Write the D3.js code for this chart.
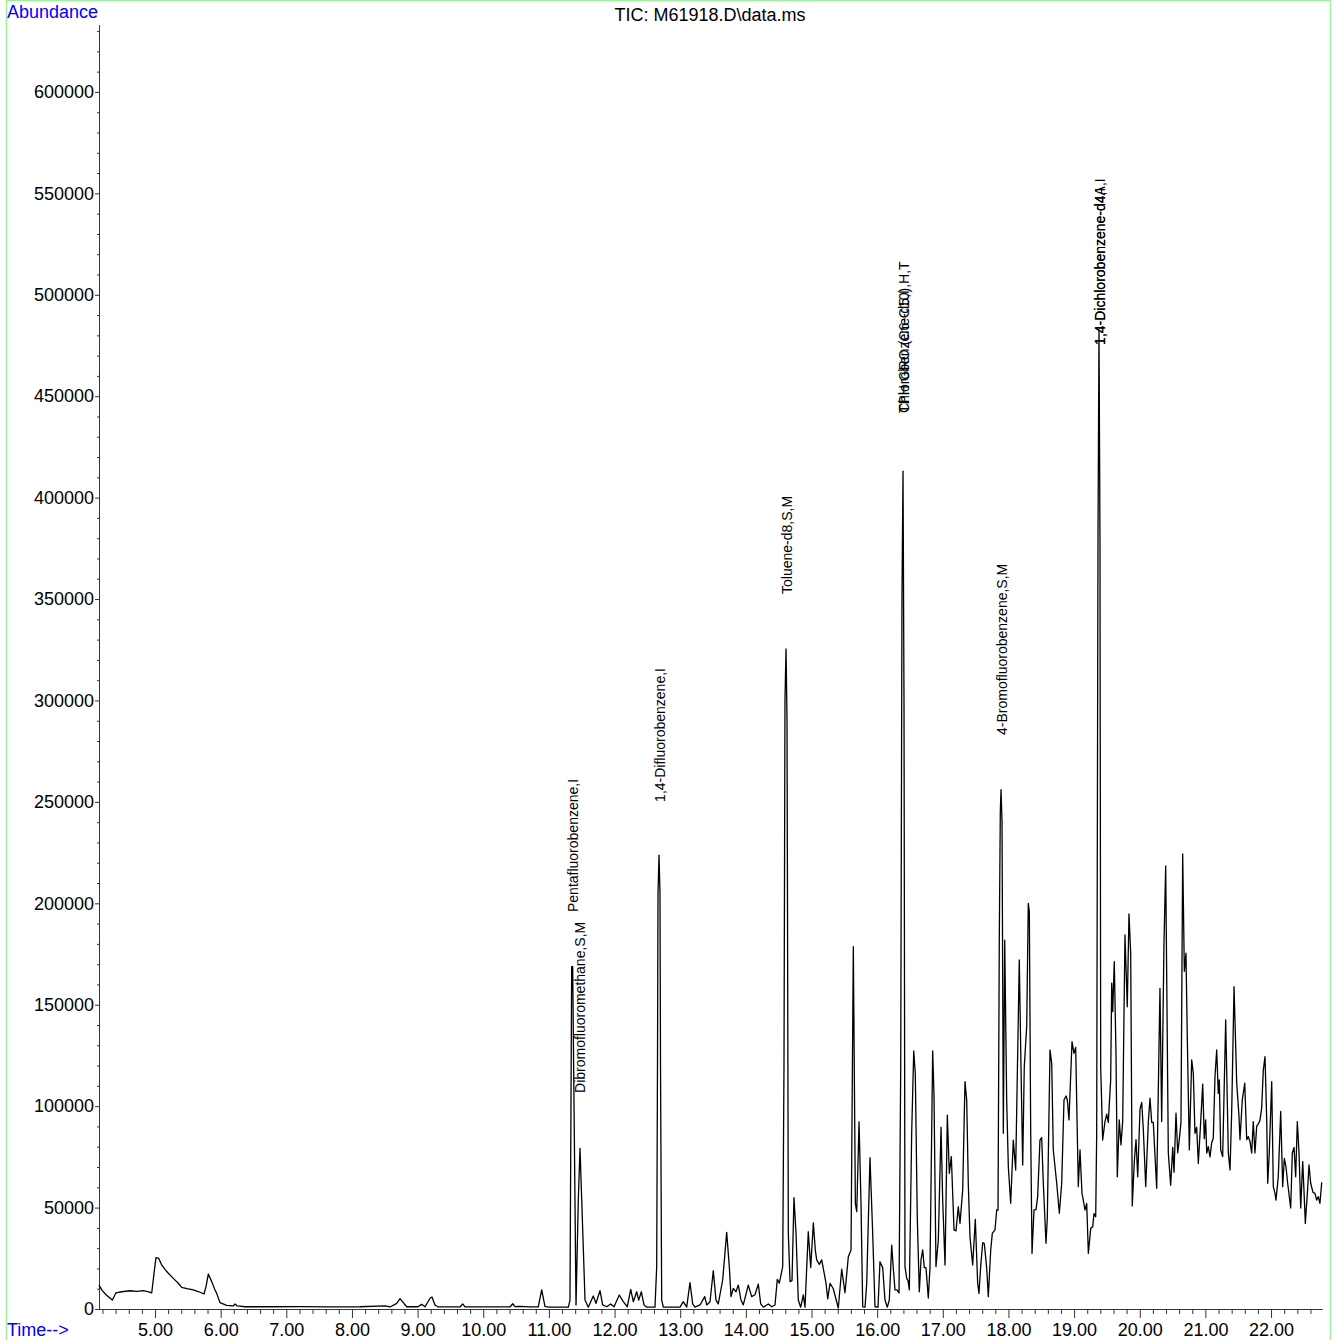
<!DOCTYPE html>
<html>
<head>
<meta charset="utf-8">
<script src="https://cdn.jsdelivr.net/npm/d3@7"></script>
<style>
  html, body { margin: 0; padding: 0; background: #fff; }
  svg { display: block; font-family: "Liberation Sans", Arial, sans-serif; }
</style>
</head>
<body>
<svg id="chart" width="1338" height="1340"></svg>
<script>
// ---- Data (retention time in minutes, abundance) ----
const tic = [
[4.147,11800],[4.188,9400],[4.254,7000],[4.350,4400],[4.406,8000],[4.493,8500],[4.619,9000],[4.726,8700],[4.817,9100],[4.893,8600],[4.950,7900],[4.985,17600],[5.015,25300],[5.056,25000],[5.102,21700],[5.152,19500],[5.203,17600],[5.279,15100],[5.355,12700],[5.407,10700],[5.487,10000],[5.583,9400],[5.670,8500],[5.746,7400],[5.777,11000],[5.812,17250],[5.864,13500],[5.914,9400],[5.940,7700],[5.990,3100],[6.092,1800],[6.193,1500],[6.219,2500],[6.254,1500],[6.371,1100],[6.676,1100],[7.209,1200],[7.666,1000],[8.123,1100],[8.503,1500],[8.580,1000],[8.682,2800],[8.732,5100],[8.782,3100],[8.834,1100],[9.006,1100],[9.062,2300],[9.113,1100],[9.189,5300],[9.219,5900],[9.265,2000],[9.315,1000],[9.646,1000],[9.687,2500],[9.722,1000],[10.407,1000],[10.449,2600],[10.484,1200],[10.560,1300],[10.712,1000],[10.838,1000],[10.890,9400],[10.941,1200],[11.017,900],[11.296,900],[11.321,4400],[11.347,168800],[11.362,168800],[11.387,86700],[11.413,2000],[11.448,53700],[11.474,79200],[11.500,53700],[11.550,4400],[11.600,900],[11.676,6400],[11.717,2800],[11.778,9000],[11.819,2000],[11.880,1100],[11.941,2500],[11.992,1100],[12.072,6900],[12.133,3600],[12.194,1100],[12.246,9700],[12.286,3600],[12.337,8500],[12.368,4400],[12.408,8500],[12.449,2000],[12.490,900],[12.616,900],[12.642,20900],[12.654,120000],[12.662,205000],[12.677,223800],[12.692,205000],[12.700,120000],[12.718,4400],[12.743,900],[12.997,900],[13.047,3600],[13.099,900],[13.149,13000],[13.190,2500],[13.225,900],[13.302,2000],[13.373,6100],[13.404,2000],[13.454,3600],[13.504,18900],[13.545,4400],[13.580,2500],[13.647,14300],[13.708,37800],[13.748,20900],[13.774,6100],[13.809,10200],[13.850,8500],[13.885,11800],[13.926,4400],[13.961,2000],[14.037,11800],[14.089,6100],[14.139,7000],[14.190,12300],[14.226,2500],[14.266,900],[14.342,2500],[14.394,1100],[14.444,2000],[14.479,14600],[14.510,12700],[14.561,20900],[14.581,120000],[14.596,300000],[14.612,325400],[14.627,290000],[14.647,37300],[14.673,13500],[14.703,14000],[14.733,54900],[14.764,37500],[14.799,4400],[14.835,900],[14.875,6900],[14.901,900],[14.951,38100],[14.988,20400],[15.028,42500],[15.058,29000],[15.079,24200],[15.119,22000],[15.155,24200],[15.195,17300],[15.221,12700],[15.247,5000],[15.282,12700],[15.332,10000],[15.408,500],[15.460,19600],[15.510,8000],[15.561,25800],[15.602,29100],[15.637,178600],[15.668,52100],[15.689,48000],[15.724,92300],[15.754,52000],[15.780,1100],[15.815,900],[15.841,12700],[15.891,74600],[15.932,37300],[15.967,1100],[16.013,900],[16.043,23300],[16.084,20400],[16.119,4400],[16.155,900],[16.185,4400],[16.222,31500],[16.246,20000],[16.272,9400],[16.302,9400],[16.333,7900],[16.359,119500],[16.378,350000],[16.394,413100],[16.409,300000],[16.424,20900],[16.450,15100],[16.470,14000],[16.490,9400],[16.526,86600],[16.557,127200],[16.581,116200],[16.611,45500],[16.642,8500],[16.668,24200],[16.694,29100],[16.718,20400],[16.744,20400],[16.779,5400],[16.805,20400],[16.846,127200],[16.866,105000],[16.896,20900],[16.932,34000],[16.973,89600],[16.998,53700],[17.034,21700],[17.069,95600],[17.099,66900],[17.130,75100],[17.171,39000],[17.201,38500],[17.236,50400],[17.262,42200],[17.303,58700],[17.338,112100],[17.364,103000],[17.388,62000],[17.414,35600],[17.455,21700],[17.495,44200],[17.531,12700],[17.551,7700],[17.577,21000],[17.608,32700],[17.632,32300],[17.669,20000],[17.693,6100],[17.730,29100],[17.754,37300],[17.795,39000],[17.821,48800],[17.841,48800],[17.861,185400],[17.876,245000],[17.887,256000],[17.902,240000],[17.922,86600],[17.943,181900],[17.973,103000],[17.998,70200],[18.034,52100],[18.074,83300],[18.110,68500],[18.165,172100],[18.191,119500],[18.217,71000],[18.241,119500],[18.278,139200],[18.302,200000],[18.318,196000],[18.339,86600],[18.359,27400],[18.389,48800],[18.420,49000],[18.445,55400],[18.480,83300],[18.506,84500],[18.531,62000],[18.572,32400],[18.592,45000],[18.633,127700],[18.659,121000],[18.683,78400],[18.735,62000],[18.775,47200],[18.811,62000],[18.846,103000],[18.877,105000],[18.897,103000],[18.922,93200],[18.968,131800],[18.998,126000],[19.024,129000],[19.064,60300],[19.090,78400],[19.120,57000],[19.140,53700],[19.166,48800],[19.192,52000],[19.217,27400],[19.253,39800],[19.283,40500],[19.303,47000],[19.329,45500],[19.344,86600],[19.364,380000],[19.379,482600],[19.394,380000],[19.405,119500],[19.435,83300],[19.470,92300],[19.496,96100],[19.521,92000],[19.557,112900],[19.573,160600],[19.588,146600],[19.612,171300],[19.638,126100],[19.658,65200],[19.688,93200],[19.714,80900],[19.740,92400],[19.775,184400],[19.810,149000],[19.836,194800],[19.862,175100],[19.886,50800],[19.917,72700],[19.943,83500],[19.969,65200],[20.004,98600],[20.030,101900],[20.054,88700],[20.091,60300],[20.131,92400],[20.156,103900],[20.182,92000],[20.206,92000],[20.258,59500],[20.308,158100],[20.334,92400],[20.369,180000],[20.395,218400],[20.435,76900],[20.471,61000],[20.502,79700],[20.522,67400],[20.552,96500],[20.578,77000],[20.602,83500],[20.628,92000],[20.654,224300],[20.679,166500],[20.704,175400],[20.724,134300],[20.755,78400],[20.791,122800],[20.816,116000],[20.841,86600],[20.867,89600],[20.892,71800],[20.928,92000],[20.959,110900],[20.983,84000],[21.004,93200],[21.020,76900],[21.044,80000],[21.070,75000],[21.096,82000],[21.120,84200],[21.146,114600],[21.172,127700],[21.196,106300],[21.212,113000],[21.233,78400],[21.263,75100],[21.309,142500],[21.349,76900],[21.375,68500],[21.401,98000],[21.436,158900],[21.477,111300],[21.512,94800],[21.527,83500],[21.562,103000],[21.599,111300],[21.629,83500],[21.653,85000],[21.679,82600],[21.705,76900],[21.729,92400],[21.755,76900],[21.781,90000],[21.811,91600],[21.831,93000],[21.857,99000],[21.882,117800],[21.908,124400],[21.934,93000],[21.949,62000],[21.973,77000],[22.010,112100],[22.034,60300],[22.060,57000],[22.075,53700],[22.110,65200],[22.147,97400],[22.177,60300],[22.202,74300],[22.228,70000],[22.253,62000],[22.299,49800],[22.324,76900],[22.350,79700],[22.375,65200],[22.400,92400],[22.426,77000],[22.452,49800],[22.482,72700],[22.502,58000],[22.522,42200],[22.553,57000],[22.578,71000],[22.604,62000],[22.639,57500],[22.669,57000],[22.695,53700],[22.720,55400],[22.745,52100],[22.772,62500]
];

// Peak annotations: name, retention time, abundance where the label starts
const peakNames = ["Dibromofluoromethane,S,M", "Pentafluorobenzene,I", "1,4-Difluorobenzene,I",
  "Toluene-d8,S,M", "Chlorobenzene-d5,I", "TPH GRO (C6-C10),H,T", "4-Bromofluorobenzene,S,M",
  "1,4-Dichlorobenzene-d4,I", "1,4-Dichlorobenzene-d4A,I"];
const peakTimes = [11.474, 11.368, 12.692, 14.627, 16.409, 16.409, 17.902, 19.394, 19.394];
const peakLabelBase = [106500, 195700, 250000, 352500, 441700, 441700, 283000, 475300, 475300];

// Axis ticks
const xMajorTicks = [5,6,7,8,9,10,11,12,13,14,15,16,17,18,19,20,21,22];
const yMajorTicks = [0,50000,100000,150000,200000,250000,300000,350000,400000,450000,500000,550000,600000];
const titleText = "TIC: M61918.D\\data.ms";

// ---- Drawing ----
const svg = d3.select("#chart");
const x = d3.scaleLinear().domain([4.147, 22.776]).range([99, 1322]);
const y = d3.scaleLinear().domain([0, 633000]).range([1309, 25]);

// outer light green frame
svg.append("rect").attr("x", 6.5).attr("y", 0.5).attr("width", 1324).attr("height", 1360)
  .attr("fill", "none").attr("stroke", "#9ef09e").attr("stroke-width", 1.5);

const axisColor = "#333";
// minor x ticks
const xMinor = d3.range(42, 228, 2).map(v => v / 10).filter(v => Math.abs(v - Math.round(v)) > 1e-6);
svg.append("g").attr("transform", "translate(0,1309)")
  .call(d3.axisBottom(x).tickValues(xMinor).tickSize(5).tickSizeOuter(0).tickFormat(""))
  .call(g => g.select(".domain").attr("stroke", axisColor))
  .call(g => g.selectAll(".tick line").attr("stroke", axisColor));
// major x ticks
svg.append("g").attr("transform", "translate(0,1309)")
  .call(d3.axisBottom(x).tickValues(xMajorTicks).tickSize(9).tickSizeOuter(0).tickFormat(d3.format(".2f")))
  .call(g => g.select(".domain").attr("stroke", axisColor))
  .call(g => g.selectAll(".tick line").attr("stroke", axisColor))
  .call(g => g.selectAll(".tick text").attr("y", 27).attr("dy", 0)
      .attr("font-size", 18).attr("font-family", "Liberation Sans, Arial, sans-serif").attr("fill", "#000"));

// minor y ticks
const yMinor = d3.range(0, 640000, 10000).filter(v => v % 50000 !== 0);
svg.append("g").attr("transform", "translate(99,0)")
  .call(d3.axisLeft(y).tickValues(yMinor).tickSize(2).tickSizeOuter(0).tickFormat(""))
  .call(g => g.select(".domain").attr("stroke", axisColor))
  .call(g => g.selectAll(".tick line").attr("stroke", axisColor));
svg.append("g").attr("transform", "translate(99,0)")
  .call(d3.axisLeft(y).tickValues(yMajorTicks).tickSize(4).tickSizeOuter(0).tickFormat(d3.format("d")))
  .call(g => g.select(".domain").attr("stroke", axisColor))
  .call(g => g.selectAll(".tick line").attr("stroke", axisColor))
  .call(g => g.selectAll(".tick text").attr("x", -5)
      .attr("font-size", 18).attr("font-family", "Liberation Sans, Arial, sans-serif").attr("fill", "#000"));

// chromatogram trace
const line = d3.line().x(d => x(d[0])).y(d => y(d[1]));
svg.append("path").datum(tic).attr("d", line)
  .attr("fill", "none").attr("stroke", "#000").attr("stroke-width", 1.3).attr("stroke-linejoin", "round");

// peak labels
svg.append("g").selectAll("text").data(peakNames).join("text")
  .attr("transform", (d, i) => `translate(${x(peakTimes[i])},${y(peakLabelBase[i])}) rotate(-90)`)
  .attr("text-anchor", "start").attr("dominant-baseline", "central")
  .attr("font-size", 14).attr("fill", "#000")
  .text(d => d);

// titles
svg.append("text").attr("x", 7).attr("y", 18).attr("font-size", 18).attr("fill", "#0000ff").text("Abundance");
svg.append("text").attr("x", 7).attr("y", 1336).attr("font-size", 18).attr("fill", "#0000ff").text("Time-->");
svg.append("text").attr("x", 710).attr("y", 21).attr("text-anchor", "middle").attr("font-size", 18).attr("fill", "#000").text(titleText);
</script>
</body>
</html>
